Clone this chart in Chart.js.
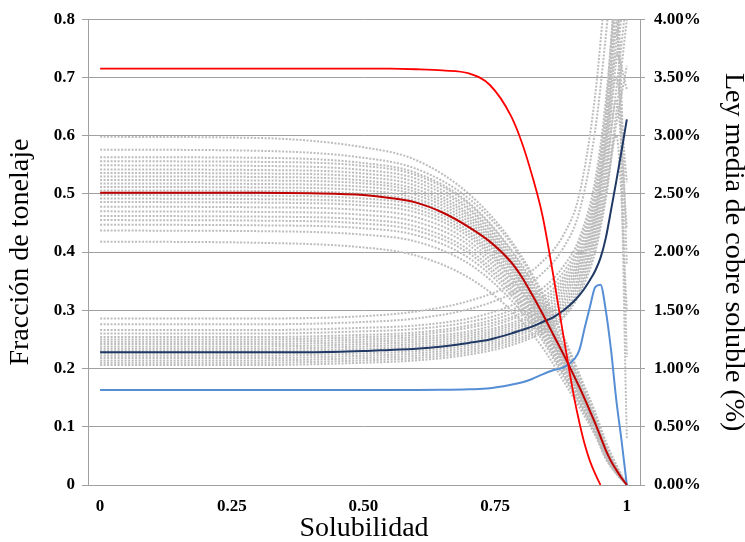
<!DOCTYPE html>
<html lang="es">
<head>
<meta charset="utf-8">
<title>Solubilidad</title>
<script src="https://cdn.jsdelivr.net/npm/chart.js@4.4.1/dist/chart.umd.min.js"></script>
<style>
    html, body { margin: 0; padding: 0; background: #fff; }
    #wrap { width: 745px; height: 542px; }
</style>
</head>
<body>
<div id="wrap"><canvas id="chartSolubilidad" width="745" height="542"></canvas></div>
<script>
// Eje de solubilidad para las curvas principales
const solubilidad = [0, 0.1, 0.2, 0.3, 0.4, 0.5, 0.55, 0.6, 0.65, 0.7, 0.74, 0.78, 0.8, 0.82,
    0.84, 0.86, 0.88, 0.9, 0.91, 0.92, 0.93, 0.94, 0.95, 0.96, 0.97, 0.98, 0.99, 1];

// Fracción de tonelaje (eje izquierdo)
const tonelajeRojo = [0.715, 0.715, 0.715, 0.715, 0.715, 0.715, 0.715, 0.714, 0.712, 0.707, 0.687, 0.634, 0.59, 0.532,
    0.462, 0.362, 0.254, 0.15, 0.107, 0.07, 0.041, 0.019, 0, null, null, null, null, null];
const tonelajeMedio = [0.502, 0.502, 0.502, 0.502, 0.501, 0.498, 0.493, 0.485, 0.468, 0.443, 0.418, 0.383, 0.358, 0.327,
    0.294, 0.259, 0.224, 0.187, 0.168, 0.148, 0.127, 0.106, 0.083, 0.06, 0.041, 0.026, 0.012, 0];

// Ley media de cobre soluble en % (eje derecho)
const leyMedia = [1.14, 1.14, 1.14, 1.14, 1.14, 1.15, 1.16, 1.17, 1.19, 1.22, 1.25, 1.3, 1.33, 1.36,
    1.4, 1.44, 1.5, 1.58, 1.63, 1.69, 1.76, 1.84, 1.95, 2.12, 2.36, 2.61, 2.87, 3.14];
const leyAzul = [0.815, 0.815, 0.815, 0.815, 0.815, 0.815, 0.815, 0.815, 0.817, 0.822, 0.83, 0.86, 0.88, 0.91,
    0.95, 0.985, 1.01, 1.08, 1.16, 1.35, 1.53, 1.7, 1.72, 1.5, 1.16, 0.73, 0.38, 0];

// Simulaciones (líneas grises punteadas)
const solubilidadSim = [0, 0.3, 0.5, 0.6, 0.7, 0.78, 0.84, 0.88, 0.91, 0.94, 0.96, 0.98, 1];

const simTonelaje = [
    [0.598, 0.596, 0.580, 0.558, 0.500, 0.420, 0.330, 0.255, 0.190, 0.125, 0.075, 0.035, 0],
    [0.576, 0.574, 0.562, 0.543, 0.492, 0.415, 0.325, 0.250, 0.186, 0.120, 0.070, 0.032, 0],
    [0.563, 0.562, 0.553, 0.536, 0.485, 0.405, 0.318, 0.240, 0.180, 0.115, 0.066, 0.030, 0],
    [0.556, 0.555, 0.548, 0.532, 0.482, 0.402, 0.312, 0.236, 0.176, 0.112, 0.064, 0.029, 0],
    [0.549, 0.548, 0.541, 0.526, 0.476, 0.396, 0.306, 0.232, 0.172, 0.110, 0.062, 0.028, 0],
    [0.542, 0.541, 0.535, 0.520, 0.472, 0.392, 0.303, 0.229, 0.170, 0.108, 0.061, 0.027, 0],
    [0.536, 0.535, 0.529, 0.514, 0.466, 0.387, 0.300, 0.226, 0.168, 0.107, 0.060, 0.027, 0],
    [0.530, 0.529, 0.523, 0.508, 0.462, 0.384, 0.297, 0.224, 0.166, 0.106, 0.059, 0.026, 0],
    [0.524, 0.523, 0.518, 0.503, 0.457, 0.380, 0.294, 0.222, 0.165, 0.105, 0.058, 0.026, 0],
    [0.518, 0.517, 0.512, 0.498, 0.452, 0.376, 0.291, 0.219, 0.163, 0.104, 0.057, 0.025, 0],
    [0.512, 0.511, 0.506, 0.492, 0.447, 0.372, 0.288, 0.216, 0.161, 0.103, 0.056, 0.025, 0],
    [0.506, 0.505, 0.500, 0.487, 0.442, 0.368, 0.285, 0.214, 0.159, 0.102, 0.056, 0.025, 0],
    [0.498, 0.497, 0.492, 0.480, 0.436, 0.362, 0.280, 0.210, 0.156, 0.100, 0.055, 0.024, 0],
    [0.492, 0.491, 0.486, 0.474, 0.431, 0.358, 0.277, 0.207, 0.154, 0.099, 0.054, 0.024, 0],
    [0.486, 0.485, 0.480, 0.468, 0.426, 0.354, 0.274, 0.205, 0.152, 0.098, 0.053, 0.023, 0],
    [0.478, 0.477, 0.472, 0.460, 0.419, 0.348, 0.270, 0.202, 0.150, 0.096, 0.052, 0.023, 0],
    [0.470, 0.469, 0.464, 0.452, 0.412, 0.343, 0.266, 0.199, 0.148, 0.095, 0.051, 0.022, 0],
    [0.462, 0.461, 0.456, 0.444, 0.404, 0.337, 0.262, 0.196, 0.146, 0.093, 0.050, 0.022, 0],
    [0.455, 0.454, 0.449, 0.437, 0.398, 0.332, 0.258, 0.193, 0.144, 0.092, 0.049, 0.021, 0],
    [0.447, 0.446, 0.441, 0.429, 0.390, 0.326, 0.254, 0.190, 0.142, 0.090, 0.048, 0.021, 0],
    [0.437, 0.436, 0.430, 0.418, 0.380, 0.318, 0.248, 0.186, 0.139, 0.088, 0.047, 0.020, 0],
    [0.418, 0.416, 0.408, 0.394, 0.356, 0.300, 0.236, 0.178, 0.133, 0.085, 0.045, 0.019, 0]
];

const simLey = [
    [1.43, 1.43, 1.45, 1.49, 1.58, 1.72, 1.92, 2.15, 2.50, 3.35, 4.30, 5.20, 5.60],
    [1.38, 1.38, 1.40, 1.43, 1.51, 1.64, 1.82, 2.04, 2.35, 3.05, 3.85, 4.80, 5.30],
    [1.33, 1.33, 1.35, 1.37, 1.43, 1.54, 1.69, 1.88, 2.12, 2.62, 3.30, 4.30, 4.90],
    [1.30, 1.30, 1.32, 1.34, 1.40, 1.50, 1.65, 1.83, 2.08, 2.55, 3.20, 4.20, 1.90],
    [1.27, 1.27, 1.29, 1.31, 1.37, 1.47, 1.61, 1.79, 2.04, 2.50, 3.15, 4.10, 4.80],
    [1.25, 1.25, 1.27, 1.29, 1.35, 1.44, 1.58, 1.76, 2.00, 2.46, 3.10, 4.05, 0.40],
    [1.23, 1.23, 1.25, 1.27, 1.32, 1.42, 1.55, 1.73, 1.96, 2.42, 3.05, 3.95, 4.60],
    [1.21, 1.21, 1.23, 1.25, 1.30, 1.39, 1.52, 1.70, 1.93, 2.38, 3.00, 3.90, 1.10],
    [1.19, 1.19, 1.21, 1.23, 1.28, 1.37, 1.50, 1.67, 1.90, 2.34, 2.95, 3.80, 4.50],
    [1.17, 1.17, 1.19, 1.21, 1.26, 1.35, 1.47, 1.64, 1.87, 2.30, 2.90, 3.70, 3.40],
    [1.15, 1.15, 1.17, 1.19, 1.24, 1.33, 1.45, 1.61, 1.84, 2.26, 2.85, 3.65, 4.40],
    [1.13, 1.13, 1.15, 1.17, 1.22, 1.31, 1.43, 1.58, 1.80, 2.22, 2.75, 3.50, 2.60],
    [1.11, 1.11, 1.13, 1.15, 1.20, 1.28, 1.40, 1.55, 1.77, 2.18, 2.70, 3.40, 4.20],
    [1.09, 1.09, 1.11, 1.13, 1.18, 1.26, 1.38, 1.52, 1.74, 2.14, 2.62, 3.30, 2.20],
    [1.07, 1.07, 1.09, 1.11, 1.16, 1.24, 1.35, 1.49, 1.70, 2.10, 2.55, 3.20, 4.00],
    [1.05, 1.05, 1.07, 1.09, 1.14, 1.22, 1.33, 1.46, 1.67, 2.05, 2.50, 3.10, 3.60],
    [1.03, 1.03, 1.05, 1.07, 1.12, 1.20, 1.31, 1.44, 1.64, 2.00, 2.45, 3.00, 1.50]
];

// Marcas del eje X
const ticksX = [0, 0.25, 0.5, 0.75, 1];
const etiquetasX = ['0', '0.25', '0.50', '0.75', '1'];

const fuente = "'Liberation Serif', 'Times New Roman', serif";
const gris = '#A0A0A0';

function puntos(xs, ys) {
    return ys.map((y, i) => ({ x: xs[i], y: y }));
}

function lineaColor(datos, color, eje, ancho) {
    return {
        data: puntos(solubilidad, datos),
        yAxisID: eje,
        borderColor: color,
        borderWidth: ancho,
        pointRadius: 0,
        fill: false,
        spanGaps: false,
        cubicInterpolationMode: 'monotone',
        order: 0
    };
}

function lineaSim(datos, eje) {
    return {
        data: puntos(solubilidadSim, datos),
        yAxisID: eje,
        borderColor: '#BDBDBD',
        borderWidth: 2,
        borderDash: [2, 1.5],
        pointRadius: 0,
        fill: false,
        cubicInterpolationMode: 'monotone',
        order: 1
    };
}

const datasets = [
    lineaColor(tonelajeRojo, '#FF0000', 'y', 1.8),
    lineaColor(tonelajeMedio, '#C00000', 'y', 2),
    lineaColor(leyMedia, '#1F3864', 'y1', 2),
    lineaColor(leyAzul, '#558ED5', 'y1', 2),
    ...simTonelaje.map(s => lineaSim(s, 'y')),
    ...simLey.map(s => lineaSim(s, 'y1'))
];

const ctx = document.getElementById('chartSolubilidad');

new Chart(ctx, {
    type: 'line',
    data: { datasets: datasets },
    options: {
        responsive: false,
        animation: false,
        devicePixelRatio: 1,
        layout: { padding: { top: 19, left: 0, right: 0, bottom: 0 } },
        plugins: {
            legend: { display: false },
            tooltip: { enabled: false }
        },
        scales: {
            x: {
                type: 'linear',
                min: -0.023,
                max: 1.025,
                afterBuildTicks: (scale) => { scale.ticks = ticksX.map(v => ({ value: v })); },
                afterFit: (scale) => { scale.height = 57; },
                grid: { display: false, drawTicks: false },
                border: { display: true, color: gris, width: 1 },
                ticks: {
                    padding: 11,
                    color: '#000',
                    font: { family: fuente, size: 17, weight: 'bold' },
                    callback: (v) => etiquetasX[ticksX.indexOf(v)]
                },
                title: {
                    display: true,
                    text: 'Solubilidad',
                    color: '#000',
                    font: { family: fuente, size: 28 },
                    padding: { top: 0, bottom: -3 }
                }
            },
            y: {
                position: 'left',
                min: 0,
                max: 0.8,
                afterFit: (scale) => { scale.width = 88; },
                grid: { color: gris, lineWidth: 1, tickLength: 6 },
                border: { display: true, color: gris, width: 1 },
                ticks: {
                    stepSize: 0.1,
                    padding: 7,
                    color: '#000',
                    font: { family: fuente, size: 17, weight: 'bold' },
                    callback: (v) => v === 0 ? '0' : v.toFixed(1)
                },
                title: {
                    display: true,
                    text: 'Fracción de tonelaje',
                    color: '#000',
                    font: { family: fuente, size: 28 },
                    padding: { top: 4, bottom: 0 }
                }
            },
            y1: {
                position: 'right',
                min: 0,
                max: 4,
                afterFit: (scale) => { scale.width = 105; },
                grid: { drawOnChartArea: false, color: gris, tickLength: 5 },
                border: { display: true, color: gris, width: 1 },
                ticks: {
                    stepSize: 0.5,
                    padding: 9,
                    color: '#000',
                    font: { family: fuente, size: 17, weight: 'bold' },
                    callback: (v) => v.toFixed(2) + '%'
                },
                title: {
                    display: true,
                    text: 'Ley media de cobre soluble (%)',
                    color: '#000',
                    font: { family: fuente, size: 28 },
                    padding: { top: -5, bottom: 0 }
                }
            }
        }
    }
});
</script>
</body>
</html>
